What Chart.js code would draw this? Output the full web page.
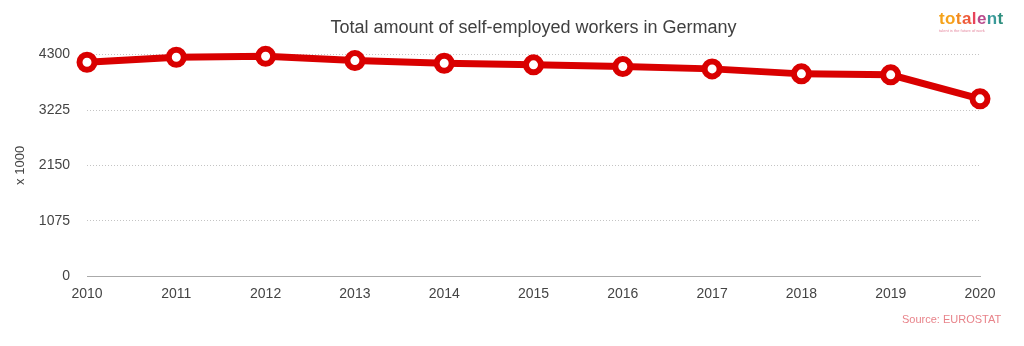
<!DOCTYPE html>
<html>
<head>
<meta charset="utf-8">
<script src="https://cdn.jsdelivr.net/npm/chart.js@4/dist/chart.umd.min.js"></script>
<style>
  html, body { margin: 0; padding: 0; background: #fff; }
  #wrap { position: relative; width: 1024px; height: 346px; }
  #logo { position: absolute; left: 939px; top: 9px; font: bold 17px "Liberation Sans", Arial, sans-serif; letter-spacing: 0.4px; }
  #logo small { display: block; font: 4px "Liberation Sans", sans-serif; color: #e58aa0; margin-top: -1px; letter-spacing: 0; }
  #source { position: absolute; left: 902px; top: 313px; font: 11px "Liberation Sans", Arial, sans-serif; color: #e8838a; white-space: nowrap; }
</style>
</head>
<body>
<div id="wrap">
  <canvas id="chart" width="1024" height="346"></canvas>
  <div id="logo"><span style="color:#f5a31a">t</span><span style="color:#f7a21b">o</span><span style="color:#f28a22">t</span><span style="color:#ee5a3a">a</span><span style="color:#e8425a">l</span><span style="color:#b84a8c">e</span><span style="color:#3a9a9a">n</span><span style="color:#2f8f7f">t</span><small>talent is the future of work</small></div>
  <div id="source">Source: EUROSTAT</div>
</div>
<script>
// --- Data ---
const years = ['2010', '2011', '2012', '2013', '2014', '2015', '2016', '2017', '2018', '2019', '2020'];
const selfEmployed = [4151, 4248, 4267, 4184, 4132, 4101, 4068, 4023, 3926, 3907, 3442];
const yTicks = [0, 1075, 2150, 3225, 4300];

const FONT = '"Liberation Sans", Arial, sans-serif';
const RED = '#d90000';

const ctx = document.getElementById('chart').getContext('2d');

new Chart(ctx, {
  type: 'line',
  data: {
    labels: years,
    datasets: [{
      data: selfEmployed,
      borderColor: RED,
      borderWidth: 7,
      backgroundColor: '#fff',
      pointBackgroundColor: '#fff',
      pointBorderColor: RED,
      pointBorderWidth: 6,
      pointRadius: 7.5,
      tension: 0,
      clip: false,
    }],
  },
  options: {
    responsive: false,
    animation: false,
    layout: { padding: { left: 13, right: 44, top: 8, bottom: 41 } },
    plugins: {
      legend: { display: false },
      tooltip: { enabled: false },
      title: {
        display: true,
        fullSize: false,
        text: 'Total amount of self-employed workers in Germany',
        color: '#404040',
        font: { family: FONT, size: 18, weight: 'normal' },
        padding: { top: 9, bottom: 16 },
      },
    },
    scales: {
      x: {
        grid: { display: false },
        border: { display: true, color: '#aaa', width: 1 },
        ticks: { color: '#444', font: { family: FONT, size: 14 }, padding: 2, maxRotation: 0 },
      },
      y: {
        min: 0,
        max: 4300,
        afterBuildTicks: (axis) => { axis.ticks = yTicks.map(v => ({ value: v })); },
        afterFit: (axis) => { axis.width = 74; },
        grid: { color: '#c4c4c4', lineWidth: 1, drawTicks: false },
        border: { display: false, dash: [1, 2] },
        ticks: { color: '#444', font: { family: FONT, size: 14 }, padding: 17, callback: (v) => String(v) },
        title: {
          display: true,
          text: 'x 1000',
          color: '#444',
          font: { family: FONT, size: 13 },
          padding: { top: 0, bottom: 6 },
        },
      },
    },
  },
});
</script>
</body>
</html>
